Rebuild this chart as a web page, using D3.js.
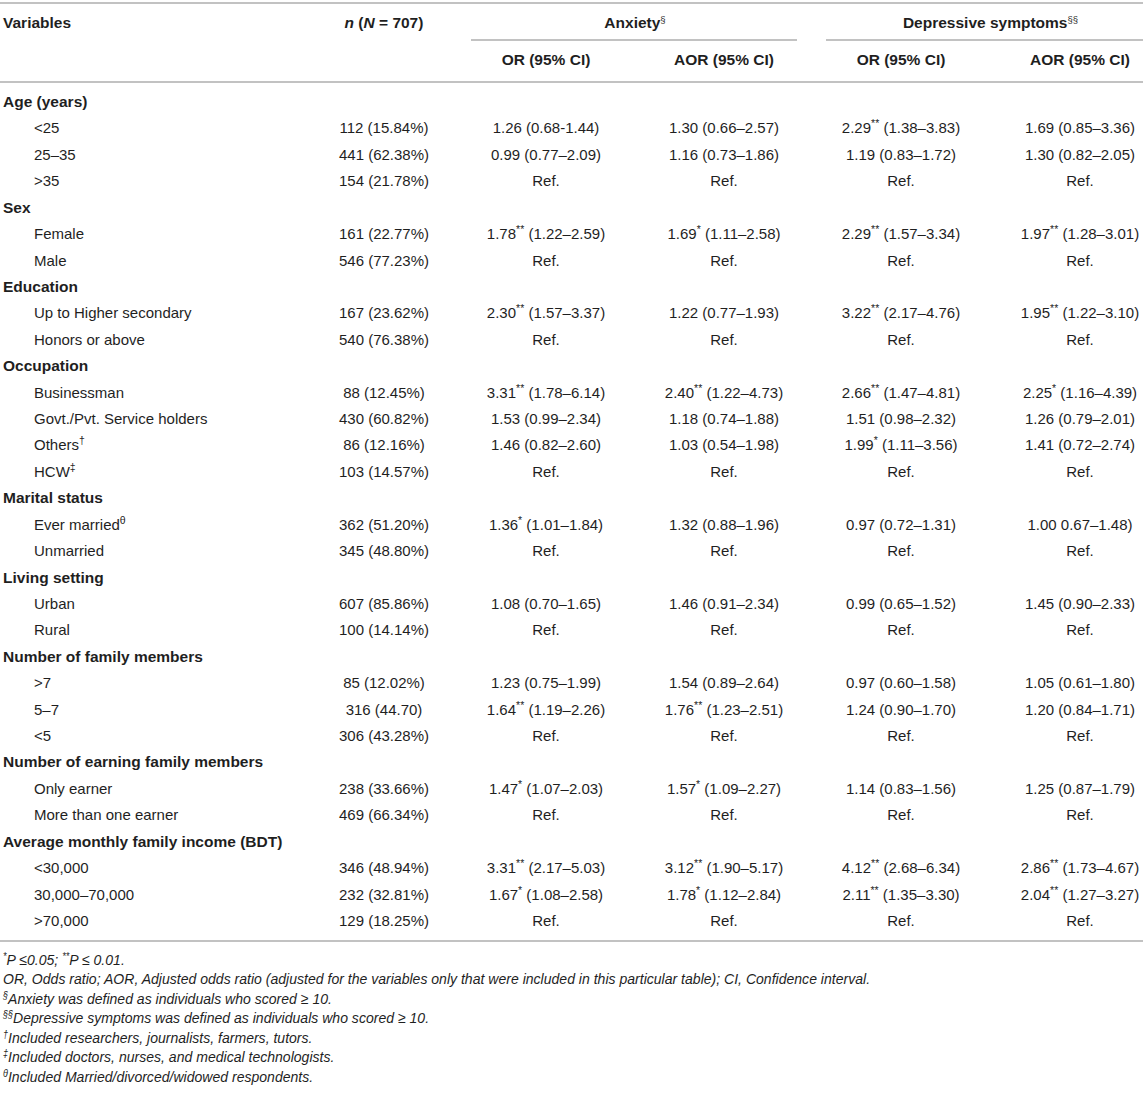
<!DOCTYPE html>
<html>
<head>
<meta charset="utf-8">
<script src="https://cdn.jsdelivr.net/npm/d3@7"></script>
<style>
  html, body { margin: 0; padding: 0; background: #fff; }
  svg { display: block; }
</style>
</head>
<body>
<svg id="chart" width="1143" height="1093"></svg>
<script>
// ---------------- DATA ----------------
const columnHeaders = ["Variables", "n (N = 707)", "OR (95% CI)", "AOR (95% CI)", "OR (95% CI)", "AOR (95% CI)"];
const groupHeaders = [
  { label: "Anxiety", sup: "§", from: 2, to: 3 },
  { label: "Depressive symptoms", sup: "§§", from: 4, to: 5 }
];

const groups = ["Age (years)", "Sex", "Education", "Occupation", "Marital status", "Living setting",
  "Number of family members", "Number of earning family members", "Average monthly family income (BDT)"];

const categories = [
  ["<25", "25–35", ">35"],
  ["Female", "Male"],
  ["Up to Higher secondary", "Honors or above"],
  ["Businessman", "Govt./Pvt. Service holders", "Others†", "HCW‡"],
  ["Ever marriedθ", "Unmarried"],
  ["Urban", "Rural"],
  [">7", "5–7", "<5"],
  ["Only earner", "More than one earner"],
  ["<30,000", "30,000–70,000", ">70,000"]
];

const nValues = [
  ["112 (15.84%)", "441 (62.38%)", "154 (21.78%)"],
  ["161 (22.77%)", "546 (77.23%)"],
  ["167 (23.62%)", "540 (76.38%)"],
  ["88 (12.45%)", "430 (60.82%)", "86 (12.16%)", "103 (14.57%)"],
  ["362 (51.20%)", "345 (48.80%)"],
  ["607 (85.86%)", "100 (14.14%)"],
  ["85 (12.02%)", "316 (44.70)", "306 (43.28%)"],
  ["238 (33.66%)", "469 (66.34%)"],
  ["346 (48.94%)", "232 (32.81%)", "129 (18.25%)"]
];

const anxietyOR = [
  ["1.26 (0.68-1.44)", "0.99 (0.77–2.09)", "Ref."],
  ["1.78** (1.22–2.59)", "Ref."],
  ["2.30** (1.57–3.37)", "Ref."],
  ["3.31** (1.78–6.14)", "1.53 (0.99–2.34)", "1.46 (0.82–2.60)", "Ref."],
  ["1.36* (1.01–1.84)", "Ref."],
  ["1.08 (0.70–1.65)", "Ref."],
  ["1.23 (0.75–1.99)", "1.64** (1.19–2.26)", "Ref."],
  ["1.47* (1.07–2.03)", "Ref."],
  ["3.31** (2.17–5.03)", "1.67* (1.08–2.58)", "Ref."]
];

const anxietyAOR = [
  ["1.30 (0.66–2.57)", "1.16 (0.73–1.86)", "Ref."],
  ["1.69* (1.11–2.58)", "Ref."],
  ["1.22 (0.77–1.93)", "Ref."],
  ["2.40** (1.22–4.73)", "1.18 (0.74–1.88)", "1.03 (0.54–1.98)", "Ref."],
  ["1.32 (0.88–1.96)", "Ref."],
  ["1.46 (0.91–2.34)", "Ref."],
  ["1.54 (0.89–2.64)", "1.76** (1.23–2.51)", "Ref."],
  ["1.57* (1.09–2.27)", "Ref."],
  ["3.12** (1.90–5.17)", "1.78* (1.12–2.84)", "Ref."]
];

const depressionOR = [
  ["2.29** (1.38–3.83)", "1.19 (0.83–1.72)", "Ref."],
  ["2.29** (1.57–3.34)", "Ref."],
  ["3.22** (2.17–4.76)", "Ref."],
  ["2.66** (1.47–4.81)", "1.51 (0.98–2.32)", "1.99* (1.11–3.56)", "Ref."],
  ["0.97 (0.72–1.31)", "Ref."],
  ["0.99 (0.65–1.52)", "Ref."],
  ["0.97 (0.60–1.58)", "1.24 (0.90–1.70)", "Ref."],
  ["1.14 (0.83–1.56)", "Ref."],
  ["4.12** (2.68–6.34)", "2.11** (1.35–3.30)", "Ref."]
];

const depressionAOR = [
  ["1.69 (0.85–3.36)", "1.30 (0.82–2.05)", "Ref."],
  ["1.97** (1.28–3.01)", "Ref."],
  ["1.95** (1.22–3.10)", "Ref."],
  ["2.25* (1.16–4.39)", "1.26 (0.79–2.01)", "1.41 (0.72–2.74)", "Ref."],
  ["1.00 0.67–1.48)", "Ref."],
  ["1.45 (0.90–2.33)", "Ref."],
  ["1.05 (0.61–1.80)", "1.20 (0.84–1.71)", "Ref."],
  ["1.25 (0.87–1.79)", "Ref."],
  ["2.86** (1.73–4.67)", "2.04** (1.27–3.27)", "Ref."]
];

const footnotes = [
  [["*", true], ["P ≤0.05; ", false], ["**", true], ["P ≤ 0.01.", false]],
  [["OR, Odds ratio; AOR, Adjusted odds ratio (adjusted for the variables only that were included in this particular table); CI, Confidence interval.", false]],
  [["§", true], ["Anxiety was defined as individuals who scored ≥ 10.", false]],
  [["§§", true], ["Depressive symptoms was defined as individuals who scored ≥ 10.", false]],
  [["†", true], ["Included researchers, journalists, farmers, tutors.", false]],
  [["‡", true], ["Included doctors, nurses, and medical technologists.", false]],
  [["θ", true], ["Included Married/divorced/widowed respondents.", false]]
];

// ---------------- LAYOUT ----------------
const W = 1143;
const svg = d3.select("#chart");
const FONT = "'Liberation Sans', Arial, Helvetica, sans-serif";
const TEXT = "#1f1f1f";
const RULE = "#c2c2c2";

// build flat rows
const rows = [];
groups.forEach((g, gi) => {
  rows.push({ type: "group", label: g });
  categories[gi].forEach((c, ci) => {
    rows.push({ type: "item", label: c,
      cells: [nValues[gi][ci], anxietyOR[gi][ci], anxietyAOR[gi][ci], depressionOR[gi][ci], depressionAOR[gi][ci]] });
  });
});

const y = d3.scaleLinear().domain([0, rows.length - 1]).range([102, 921]);
const colX = d3.scaleOrdinal().domain([1, 2, 3, 4, 5]).range([384, 546, 724, 901, 1080]);

// rules
const rules = [
  { x1: 0, x2: W, y: 3 },
  { x1: 471, x2: 797, y: 40 },
  { x1: 826, x2: W, y: 40 },
  { x1: 0, x2: W, y: 82 },
  { x1: 0, x2: W, y: 941 }
];
svg.selectAll("line.rule").data(rules).join("line")
  .attr("class", "rule")
  .attr("x1", d => d.x1).attr("x2", d => d.x2)
  .attr("y1", d => d.y).attr("y2", d => d.y)
  .attr("stroke", RULE).attr("stroke-width", 2);

// helper: text with superscript markers
const supRe = /(\*+|§+|†|‡|θ)/;
function addRich(sel, str, supSize) {
  str.split(supRe).filter(s => s !== "").forEach(part => {
    const m = part.match(supRe);
    if (m && m[0] === part) {
      sel.append("tspan").attr("baseline-shift", "super").attr("font-size", supSize).text(part);
    } else {
      sel.append("tspan").text(part);
    }
  });
}

// header
const hdr = svg.append("g").attr("font-family", FONT).attr("font-weight", "bold").attr("fill", TEXT).attr("font-size", 15.5);
hdr.append("text").attr("x", 3).attr("y", 28).text(columnHeaders[0]);
const nh = hdr.append("text").attr("x", colX(1)).attr("y", 28).attr("text-anchor", "middle");
nh.append("tspan").attr("font-style", "italic").text("n");
nh.append("tspan").text(" (");
nh.append("tspan").attr("font-style", "italic").text("N");
nh.append("tspan").text(" = 707)");

groupHeaders.forEach(g => {
  const cx = (colX(g.from) + colX(g.to)) / 2;
  const t = hdr.append("text").attr("x", cx).attr("y", 28).attr("text-anchor", "middle");
  t.append("tspan").text(g.label);
  t.append("tspan").attr("baseline-shift", "super").attr("font-size", 9.5).attr("font-weight", "normal").text(g.sup);
});
[2, 3, 4, 5].forEach(c => {
  hdr.append("text").attr("x", colX(c)).attr("y", 65).attr("text-anchor", "middle").text(columnHeaders[c]);
});

// body
const body = svg.append("g").attr("font-family", FONT).attr("fill", TEXT).attr("font-size", 15);
rows.forEach((r, i) => {
  const yy = y(i) + 5;
  if (r.type === "group") {
    body.append("text").attr("x", 3).attr("y", yy).attr("font-weight", "bold").attr("font-size", 15.5).text(r.label);
  } else {
    addRich(body.append("text").attr("x", 34).attr("y", yy), r.label, 10.5);
    r.cells.forEach((c, ci) => {
      addRich(body.append("text").attr("x", colX(ci + 1)).attr("y", yy).attr("text-anchor", "middle"), c, 10.5);
    });
  }
});

// footnotes (condensed italic: horizontally compressed to the reference width)
const fy = d3.scaleLinear().domain([0, footnotes.length - 1]).range([960, 1077]);
const foot = svg.append("g").attr("font-family", FONT).attr("font-style", "italic").attr("fill", TEXT).attr("font-size", 15.5);
const footTexts = [];
footnotes.forEach((f, i) => {
  const t = foot.append("text").attr("x", 0).attr("y", fy(i) + 5);
  f.forEach(([s, sup]) => {
    const ts = t.append("tspan").text(s);
    if (sup) ts.attr("baseline-shift", "super").attr("font-size", 10);
  });
  footTexts.push(t);
});
const longest = footTexts[1].node().getComputedTextLength();
const sx = longest > 0 ? 868 / longest : 1;
foot.attr("transform", `translate(3,0) scale(${sx},1)`);
</script>
</body>
</html>
